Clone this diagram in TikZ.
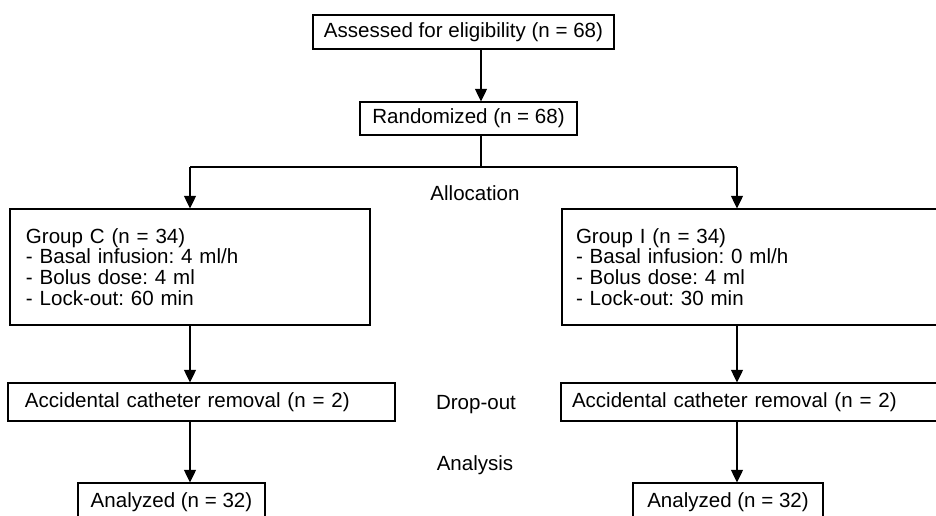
\documentclass[tikz,border=0pt]{standalone}
\usepackage{fontspec}
\setmainfont{Liberation Sans}
\usetikzlibrary{arrows.meta}
\frenchspacing
\tikzset{
  box/.style={draw, line width=0.8pt, inner ysep=0pt, font=\fontsize{15.4pt}{15.6pt}\selectfont},
  leftbox/.style={box, align=left},
  arr/.style={line width=1.1pt, -{Triangle[width=9pt,length=9.5pt]}},
  lbl/.style={font=\fontsize{15.4pt}{15.6pt}\selectfont}
}
\begin{document}
\begin{tikzpicture}[x=0.75pt,y=-0.75pt]
  \useasboundingbox (0,0) rectangle (936,516);
  \clip (0,0) rectangle (936,516);
  % boxes
  \node[box, minimum width=225.75pt, minimum height=25.5pt] (elig) at (463.5,32) {Assessed for eligibility (n = 68)};
  \node[box, minimum width=162.75pt, minimum height=24.75pt] (rand) at (468.5,118.5) {Randomized (n = 68)};
  \node[leftbox, inner xsep=12pt, text width=246pt, minimum height=87pt] (grpC) at (190,267)
    {Group C (n = 34)\\- Basal infusion: 4 ml/h\\- Bolus dose: 4 ml\\- Lock-out: 60 min};
  \node[leftbox, inner xsep=10.5pt, text width=270pt, minimum height=87pt] (grpI) at (756,267)
    {Group I (n = 34)\\- Basal infusion: 0 ml/h\\- Bolus dose: 4 ml\\- Lock-out: 30 min};
  \node[leftbox, inner xsep=12.75pt, text width=264.75pt, minimum height=28.5pt] (accC) at (201.5,402) {Accidental catheter removal (n = 2)};
  \node[leftbox, inner xsep=8.25pt, text width=275.25pt, minimum height=28.5pt] (accI) at (755.5,402) {Accidental catheter removal (n = 2)};
  \node[box, minimum width=140.25pt, minimum height=28.5pt] (anaC) at (171.5,502) {Analyzed (n = 32)};
  \node[box, minimum width=142.5pt, minimum height=28.5pt] (anaI) at (728,502) {Analyzed (n = 32)};
  % stage labels
  \node[lbl] (alloc) at (475,193) {Allocation};
  \node[lbl] (drop) at (476,405) {Drop-out};
  \node[lbl] (anal) at (475,465) {Analysis};
  % connectors
  \coordinate (split) at (481,167);
  \coordinate (colC) at (190,167);
  \coordinate (colI) at (737,167);
  \draw[arr] (elig.south -| split) -- (rand.north -| split);
  \draw[line width=1.1pt] (rand.south -| split) -- (split);
  \draw[line width=1.1pt] (colC) -- (colI);
  \draw[arr] (colC) -- (grpC.north -| colC);
  \draw[arr] (colI) -- (grpI.north -| colI);
  \draw[arr] (grpC.south -| colC) -- (accC.north -| colC);
  \draw[arr] (grpI.south -| colI) -- (accI.north -| colI);
  \draw[arr] (accC.south -| colC) -- (anaC.north -| colC);
  \draw[arr] (accI.south -| colI) -- (anaI.north -| colI);
\end{tikzpicture}
\end{document}
